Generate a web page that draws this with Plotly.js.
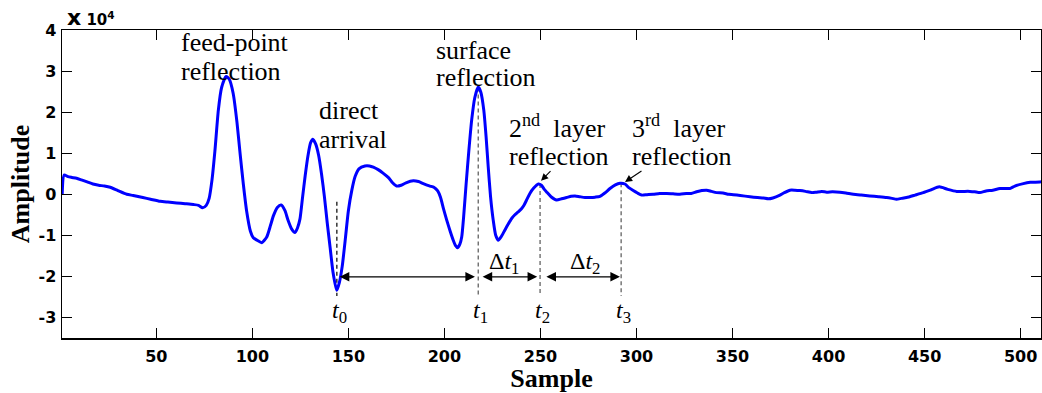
<!DOCTYPE html>
<html>
<head>
<meta charset="utf-8">
<script src="https://cdn.plot.ly/plotly-3.0.1.min.js"></script>
<style>html,body{margin:0;padding:0;background:#fff;}#chart{width:1042px;height:393px;}</style>
</head>
<body>
<div id="chart"></div>
<script>
// Sample index (x) and amplitude in units of 10^4 (y)
const sample = [1,2,4,6,8.5,11,14,17,20,23,26,30,34.6,38,43,47,52,56,60.6,65,69.3,72,74.1,76,77.5,79,80.5,82.3,84,86.3,88,90,92,93.6,95.3,97,99,100.5,102.5,104.9,107.5,109.5,111,113,115,117,118.5,120.5,122.2,123.5,124.8,126.2,127.5,129,130.3,131.5,133,134.5,136,137.5,139,140.5,142,143.9,145.3,146.8,148.5,150,151.8,153.5,155.5,158.6,161,163,165.5,168.2,171,173,175.1,177.5,180,183.8,186.5,189,192.5,194.5,196.5,198,199.5,201.2,203,204.6,205.8,206.9,208,209,210,211.3,212.7,214.2,215.8,217.6,219,220.5,221.7,222.8,224,225.4,226.7,228,229.5,231.5,233.3,235,236.7,238.4,240,241.5,243,244.5,246.5,248.9,250.5,252,253.5,255.5,258.4,261,263.6,266,268,270.5,273.2,276,278.5,281,283.5,286.2,289,291.4,294,296,298.3,300.5,302.7,305.5,308.7,312,315.7,319,322.6,326,328.5,331.3,334,336.5,339,341.7,345,348,350.4,354,359.1,363,366,368.6,371,374.7,377,379.9,382.5,385.1,388,391.2,393.5,396.4,399,402,405.9,409,412.9,417,421.5,426,430.2,433,435.4,438,440.6,445,449.3,453.5,457.6,462,466.7,470,473.6,476,478.8,482,485.5,489.2,492,494.4,497,501.4,505,510,511];
const amplitude = [0.0,0.47,0.43,0.41,0.39,0.35,0.3,0.25,0.22,0.2,0.17,0.09,0.0,-0.03,-0.08,-0.12,-0.17,-0.19,-0.21,-0.23,-0.25,-0.27,-0.33,-0.27,-0.1,0.35,1.05,2.05,2.6,2.87,2.8,2.46,1.75,1.0,0.25,-0.4,-0.9,-1.06,-1.12,-1.18,-1.04,-0.75,-0.52,-0.32,-0.26,-0.4,-0.62,-0.85,-0.93,-0.82,-0.6,-0.05,0.45,0.95,1.25,1.34,1.22,0.95,0.5,-0.05,-0.7,-1.3,-1.9,-2.34,-2.15,-1.75,-1.05,-0.4,0.1,0.43,0.62,0.69,0.69,0.66,0.6,0.51,0.4,0.28,0.2,0.22,0.28,0.33,0.31,0.26,0.2,0.17,0.08,-0.08,-0.35,-0.63,-0.9,-1.12,-1.25,-1.3,-1.22,-1.04,-0.55,0.25,1.05,1.81,2.35,2.61,2.48,2.05,1.4,0.67,-0.05,-0.63,-1.0,-1.12,-1.04,-0.87,-0.72,-0.59,-0.5,-0.43,-0.36,-0.26,-0.12,0.02,0.15,0.25,0.22,0.12,0.04,-0.06,-0.14,-0.11,-0.08,-0.05,-0.04,-0.06,-0.08,-0.08,-0.07,-0.05,0.03,0.14,0.23,0.27,0.25,0.16,0.09,0.03,-0.02,-0.01,0.0,0.02,0.02,0.01,0.0,0.02,0.02,0.06,0.09,0.1,0.07,0.04,0.03,0.0,-0.01,-0.03,-0.06,-0.08,-0.09,-0.11,-0.09,-0.02,0.04,0.1,0.1,0.09,0.07,0.04,0.05,0.07,0.05,0.06,0.05,0.03,0.0,-0.02,-0.04,-0.06,-0.08,-0.1,-0.12,-0.1,-0.08,-0.02,0.04,0.11,0.18,0.12,0.07,0.07,0.07,0.06,0.04,0.08,0.1,0.14,0.14,0.14,0.2,0.26,0.29,0.3,0.31];

// Event times t0..t3 (samples) and the extents of their dashed markers
const eventNames = ['t0','t1','t2','t3'];
const eventSamples = [144, 217.6, 249.8, 292];
const eventTops = [-0.18, 2.6, 0.25, 0.27];
const eventBottom = -2.48;
const eventColors = ['#000000','#555555','#555555','#555555'];

// Interval arrows (start, end) at amplitude arrowLevel
const arrowStarts = [144.7, 219.1, 252.3];
const arrowEnds = [215.9, 248.3, 291.4];
const arrowLevel = -2.01;
const intervalLabels = ['\u0394<i>t</i><sub>1</sub>', '\u0394<i>t</i><sub>2</sub>'];
const intervalLabelX = [231.5, 273.4];
const intervalLabelY = -1.67;

// Text labels: [text, x(sample), y(amplitude)]
const labelTexts = ['feed-point','reflection','direct','arrival','surface','reflection','2<sup>nd</sup>\u00a0 layer','reflection','3<sup>rd</sup>\u00a0 layer','reflection'];
const labelX = [62.0, 62.0, 133.8, 133.8, 194.7, 194.7, 232.4, 232.4, 296.6, 296.6];
const labelY = [3.7, 3.0, 2.03, 1.33, 3.5, 2.84, 1.64, 0.92, 1.64, 0.92];

// Small pointer arrows to 2nd and 3rd layer peaks: head (x,y)
const pointerX = [250.3, 294.0];
const pointerY = [0.33, 0.30];

const xTicks = [50,100,150,200,250,300,350,400,450,500];
const yTicks = [-3,-2,-1,0,1,2,3,4];

const traces = [];
for (let i = 0; i < eventSamples.length; i++) {
  traces.push({
    x: [eventSamples[i], eventSamples[i]],
    y: [eventTops[i], eventBottom],
    mode: 'lines', hoverinfo: 'skip', showlegend: false,
    line: {color: eventColors[i], width: 1.2, dash: '4px,3px'}
  });
}
traces.push({
  x: sample, y: amplitude, mode: 'lines', showlegend: false,
  line: {color: '#0000ff', width: 3, shape: 'spline', smoothing: 0.6}
});

const serif = 'Liberation Serif, Times New Roman, serif';
const annotations = [];
for (let i = 0; i < labelTexts.length; i++) {
  annotations.push({x: labelX[i], y: labelY[i], xref: 'x', yref: 'y', text: labelTexts[i],
    showarrow: false, xanchor: 'left', yanchor: 'middle',
    font: {family: serif, size: 26, color: '#000'}});
}
for (let i = 0; i < eventSamples.length; i++) {
  const txt = '<i>t</i><sub>' + eventNames[i].slice(1) + '</sub>';
  annotations.push({x: eventSamples[i] + 1.2, y: -2.87, xref: 'x', yref: 'y', text: txt,
    showarrow: false, xanchor: 'center', yanchor: 'middle',
    font: {family: serif, size: 24, color: '#000'}});
}
for (let i = 0; i < arrowStarts.length; i++) {
  annotations.push({x: arrowEnds[i], y: arrowLevel, ax: arrowStarts[i], ay: arrowLevel,
    xref: 'x', yref: 'y', axref: 'x', ayref: 'y', text: '', showarrow: true,
    arrowhead: 2, startarrowhead: 2, arrowside: 'end+start', arrowsize: 1.6, startarrowsize: 1.6,
    arrowwidth: 1.2, arrowcolor: '#000', standoff: 0, startstandoff: 0});
}
for (let i = 0; i < intervalLabels.length; i++) {
  annotations.push({x: intervalLabelX[i], y: intervalLabelY, xref: 'x', yref: 'y', text: intervalLabels[i],
    showarrow: false, xanchor: 'center', yanchor: 'middle',
    font: {family: serif, size: 24, color: '#000'}});
}
const pointerAx = [11, 18];
const pointerAy = [-11, -12];
for (let i = 0; i < pointerX.length; i++) {
  annotations.push({x: pointerX[i], y: pointerY[i], xref: 'x', yref: 'y', ax: pointerAx[i], ay: pointerAy[i],
    text: '', showarrow: true, arrowhead: 2, arrowsize: 1.3, arrowwidth: 1.1, arrowcolor: '#000', standoff: 0});
}
annotations.push({x: 0.003, y: 1.0, xref: 'paper', yref: 'paper', yshift: 13,
  text: '<b><span style="font-size:22px">x</span> 10<sup>4</sup></b>',
  showarrow: false, xanchor: 'left', yanchor: 'middle',
  font: {family: 'DejaVu Sans, sans-serif', size: 15, color: '#000'}});

const axisCommon = {
  showline: true, linecolor: '#000', linewidth: 1.5, mirror: 'ticks',
  ticks: 'inside', ticklen: 10, tickwidth: 1, tickcolor: '#000',
  showgrid: false, zeroline: false,
  tickfont: {family: 'DejaVu Sans, sans-serif', size: 16, color: '#000', weight: 'bold'}
};

const layout = {
  width: 1042, height: 393,
  margin: {l: 62, r: 1, t: 30, b: 55},
  paper_bgcolor: '#fff', plot_bgcolor: '#fff',
  showlegend: false,
  xaxis: Object.assign({}, axisCommon, {
    range: [0.9, 510.6], tickmode: 'array', tickvals: xTicks, ticktext: xTicks.map(String),
    ticklabelstandoff: 3,
    title: {text: '<b>Sample</b>', font: {family: serif, size: 26, color: '#000'}, standoff: 0}
  }),
  yaxis: Object.assign({}, axisCommon, {
    range: [-3.5, 4], tickmode: 'array', tickvals: yTicks, ticktext: yTicks.map(String),
    ticklabelstandoff: 1,
    title: {text: '<b>Amplitude</b>', font: {family: serif, size: 26, color: '#000'}, standoff: 1}
  }),
  annotations: annotations
};

Plotly.newPlot('chart', traces, layout, {staticPlot: true, displayModeBar: false});
</script>
</body>
</html>
